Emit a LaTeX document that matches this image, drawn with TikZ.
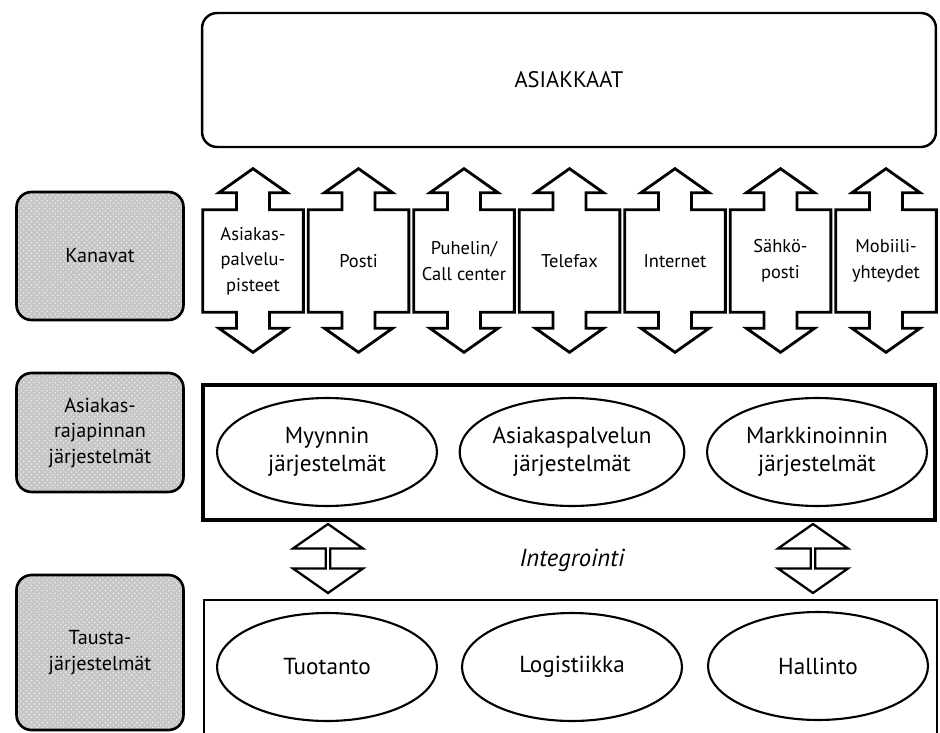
\documentclass[tikz,border=0pt]{standalone}
\usepackage{fontspec}
\setmainfont{PT Sans}
\usepackage{tikz}
\usetikzlibrary{calc}
\usetikzlibrary{shapes.geometric,shapes.arrows,patterns}

\begin{document}
\begin{tikzpicture}[x=0.02cm,y=-0.02cm,
        laatikko/.style={draw, line width=1.4pt, rounded corners=0.3cm, minimum width=14.68cm, minimum height=2.68cm, font=\fontsize{12.8}{14}\selectfont},
        otsikko/.style={draw, line width=1.5pt, rounded corners=0.3cm, minimum width=3.34cm, preaction={fill=gray!45}, pattern=crosshatch dots, pattern color=white!85!gray, align=center, font=\fontsize{11.5}{14.5}\selectfont},
        kanava/.style={minimum width=2cm, minimum height=2.04cm, inner sep=0pt, align=center, font=\fontsize{10.5}{14.5}\selectfont},
        nuoli/.style={line width=1.6pt},
        kerros/.style={draw, minimum width=14.64cm, minimum height=2.7cm},
        jarj/.style={draw, ellipse, line width=1.2pt, minimum width=4.4cm, minimum height=2.16cm, inner sep=0pt, align=center, font=\fontsize{13.2}{16}\selectfont},
        integ/.style={draw, double arrow, line width=1.3pt, shape border rotate=90, minimum height=1.38cm, minimum width=1.4cm, double arrow head extend=0.32cm, double arrow tip angle=110, inner sep=0pt}
    ]
        \useasboundingbox (0,0) rectangle (940,733);
        \clip (0,0) rectangle (940,733);

        %ASIAKKAAT
        \node[laatikko] (asiakkaat) at (569,80) {ASIAKKAAT};

        %OTSIKOT
        \node[otsikko, minimum height=2.56cm] (kanavat) at (100,256) {Kanavat};
        \node[otsikko, minimum height=2.38cm] (rajapinta) at (100,432.5) {Asiakas-\\rajapinnan\\järjestelmät};
        \node[otsikko, minimum height=3.1cm] (tausta) at (100,652.5) {Tausta-\\järjestelmät};

        %KANAVAT
        \node[kanava] (k1) at (253,261) {Asiakas-\\palvelu-\\pisteet};
        \node[kanava] (k2) at (358.5,261) {Posti};
        \node[kanava] (k3) at (464,261) {Puhelin/\\Call center};
        \node[kanava] (k4) at (569.5,261) {Telefax};
        \node[kanava] (k5) at (675,261) {Internet};
        \node[kanava] (k6) at (780.5,261) {Sähkö-\\posti};
        \node[kanava] (k7) at (886,261) {Mobiili-\\yhteydet};

        \foreach \k in {k1,k2,k3,k4,k5,k6,k7}
            \draw[nuoli] (\k.north west) -- ($(\k.north)+(-16.5,0)$) -- ++(0,-17) -- ++(-17.5,0) -- ++(34,-24) -- ++(34,24) -- ++(-17.5,0) -- ++(0,17) -- (\k.north east)
                -- (\k.south east) -- ($(\k.south)+(16.5,0)$) -- ++(0,16) -- ++(17.5,0) -- ++(-34,24) -- ++(-34,-24) -- ++(17.5,0) -- ++(0,-16) -- (\k.south west) -- cycle;

        %ASIAKASRAJAPINTA
        \node[kerros, line width=2.2pt] (keski) at (569,452.5) {};
        \node[jarj] (myynti) at (327,452) {Myynnin\\järjestelmät};
        \node[jarj] (palvelu) at (572,452) {Asiakaspalvelun\\järjestelmät};
        \node[jarj] (markkinointi) at (817,452) {Markkinoinnin\\järjestelmät};

        %INTEGROINTI
        \node[integ] (int1) at (328,558.5) {};
        \node[integ] (int2) at (813,558.5) {};
        \node[font=\fontsize{14}{16}\selectfont\itshape] (integrointi) at (572,560) {Integrointi};

        %TAUSTAJARJESTELMAT
        \node[kerros, line width=1.2pt, minimum width=14.66cm, minimum height=2.8cm] (ala) at (570.5,670) {};
        \node[jarj] (tuotanto) at (327,667) {Tuotanto};
        \node[jarj] (logistiikka) at (572,667) {Logistiikka};
        \node[jarj] (hallinto) at (818,666) {Hallinto};
    \end{tikzpicture}
\end{document}
